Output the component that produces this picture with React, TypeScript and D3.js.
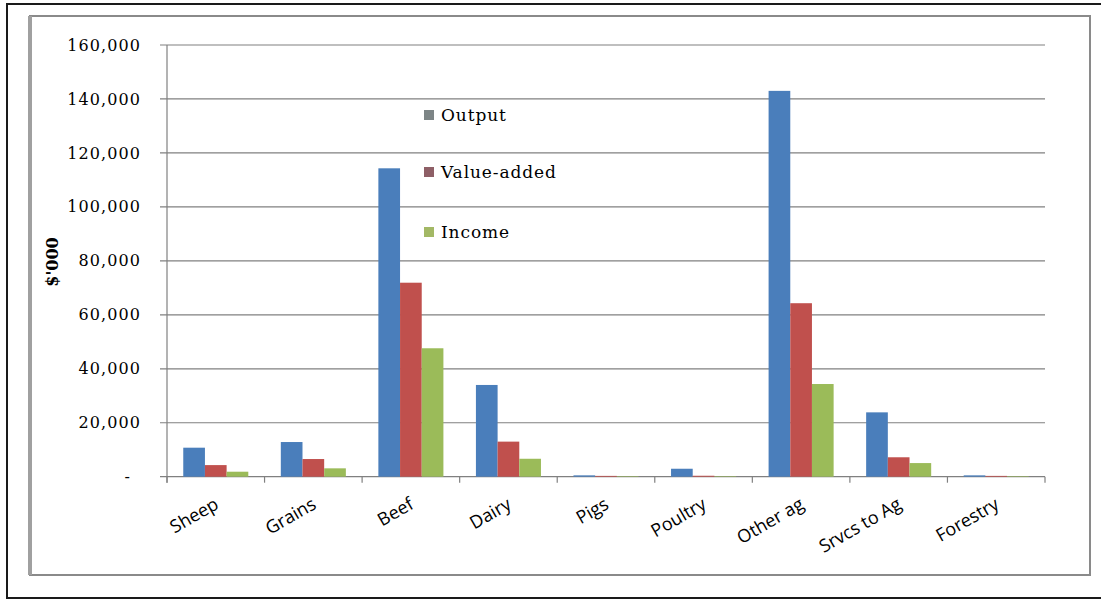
import React from "react";
import * as d3 from "d3";

// Regional agriculture: output, value-added and income by industry ($'000)
const categories = ["Sheep", "Grains", "Beef", "Dairy", "Pigs", "Poultry", "Other ag", "Srvcs to Ag", "Forestry"];
const seriesNames = ["Output", "Value-added", "Income"];
const outputValues = [10750, 12850, 114300, 34000, 500, 2950, 143000, 23850, 500];
const valueAddedValues = [4300, 6550, 71900, 13000, 300, 350, 64300, 7200, 300];
const incomeValues = [1850, 3100, 47600, 6650, 200, 200, 34350, 5050, 200];
const yTicks = [0, 20000, 40000, 60000, 80000, 100000, 120000, 140000, 160000];

const barColors = ["#4a7ebb", "#c0504d", "#9bbb59"];
const legendColors = ["#7d8586", "#8e5f66", "#a3b865"];

const W = 1101;
const H = 599;
const plot = { left: 167, right: 1045, top: 45, bottom: 476.7 };

export default function App() {
  const x = d3.scaleBand<string>().domain(categories).range([plot.left, plot.right]).paddingInner(0).paddingOuter(0);
  const y = d3.scaleLinear().domain([0, 160000]).range([plot.bottom, plot.top]);
  const bw = x.bandwidth();
  // Excel-style clustered bars: gap width 150% of a bar
  const x1 = d3
    .scaleBand<string>()
    .domain(seriesNames)
    .range([(bw * 0.75) / 4.5, bw - (bw * 0.75) / 4.5])
    .padding(0);
  const series = [outputValues, valueAddedValues, incomeValues];
  const fmt = d3.format(",");
  const serif = "'DejaVu Serif', serif";
  const sans = "'Open Sans', sans-serif";

  return (
    <svg width={W} height={H} style={{ position: "absolute", left: 0, top: 0, background: "#fff" }}>
      <rect x={0} y={0} width={W} height={H} fill="#fff" />
      {/* outer frame */}
      <rect x={7} y={4} width={W + 10} height={594} fill="none" stroke="#1a1a1a" strokeWidth={2} />
      {/* chart area frame */}
      <rect x={30} y={16} width={1060} height={559} fill="none" stroke="#8a8a8a" strokeWidth={2} />
      <line x1={30} x2={30} y1={16} y2={575} stroke="#a0a0a0" strokeWidth={4} />

      {/* gridlines */}
      {yTicks.map((t) => (
        <line key={"g" + t} x1={plot.left - 7} x2={plot.right} y1={y(t)} y2={y(t)} stroke="#808080" strokeWidth={1.2} />
      ))}
      {/* y axis */}
      <line x1={plot.left} x2={plot.left} y1={plot.top} y2={plot.bottom + 6} stroke="#808080" strokeWidth={1.2} />
      {/* x ticks at category boundaries */}
      {d3.range(categories.length + 1).map((i) => {
        const xx = plot.left + i * bw;
        return <line key={"xt" + i} x1={xx} x2={xx} y1={plot.bottom} y2={plot.bottom + 6} stroke="#808080" strokeWidth={1.2} />;
      })}

      {/* bars */}
      {series.map((vals, si) =>
        vals.map((v, ci) => (
          <rect
            key={`b${si}-${ci}`}
            x={(x(categories[ci]) as number) + (x1(seriesNames[si]) as number)}
            y={y(v)}
            width={x1.bandwidth()}
            height={plot.bottom - y(v)}
            fill={barColors[si]}
          />
        ))
      )}

      {/* y tick labels */}
      {yTicks.map((t) => (
        <text
          key={"yl" + t}
          x={t === 0 ? 131 : 141}
          y={y(t)}
          dy="0.35em"
          textAnchor="end"
          fontFamily={serif}
          fontSize={16}
          letterSpacing={1.1}
          fill="#000"
        >
          {t === 0 ? "-" : fmt(t)}
        </text>
      ))}

      {/* y axis title */}
      <text
        transform={`translate(58,262) rotate(-90)`}
        textAnchor="middle"
        fontFamily={serif}
        fontWeight="bold"
        fontSize={16}
        fill="#000"
      >
        $'000
      </text>

      {/* category labels */}
      {categories.map((c) => {
        const cx = (x(c) as number) + bw / 2 + 4;
        return (
          <text
            key={"xl" + c}
            transform={`translate(${cx},${plot.bottom + 31}) rotate(-30)`}
            textAnchor="end"
            fontFamily={sans}
            fontSize={18}
            fill="#000"
          >
            {c}
          </text>
        );
      })}

      {/* legend */}
      {seriesNames.map((s, i) => {
        const ly = [115, 172, 232][i];
        return (
          <g key={"lg" + s}>
            <rect x={424} y={ly - 5} width={10} height={10} fill={legendColors[i]} />
            <text x={441} y={ly} dy="0.35em" fontFamily={serif} fontSize={17} letterSpacing={0.9} fill="#000">
              {s}
            </text>
          </g>
        );
      })}
    </svg>
  );
}
